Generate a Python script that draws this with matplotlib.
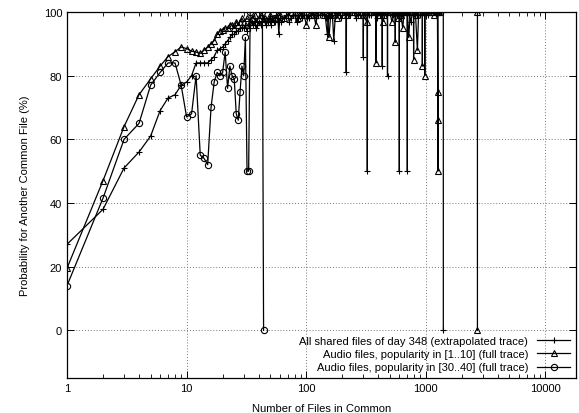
import matplotlib
matplotlib.use("Agg")
import matplotlib.pyplot as plt
from matplotlib.ticker import LogLocator, NullFormatter, FixedLocator

plt.rcParams['font.family'] = ['Liberation Sans', 'DejaVu Sans']

# All shared files of day 348 (extrapolated trace)
all_x = [1, 2, 3, 4, 5, 6, 7, 8, 9, 10, 11, 12, 13, 14, 15, 16, 17, 18, 19, 20,
         21, 22, 23, 24, 25, 26, 27, 28, 29, 30, 31, 32, 33, 34, 35, 36, 37, 38, 39, 40,
         42, 44, 45, 46, 48, 50, 51, 52, 54, 55, 56, 58, 59, 60, 62, 65, 68, 70, 72, 75,
         78, 80, 83, 85, 88, 90, 93, 95, 100, 105, 110, 115, 120, 125, 130, 135, 140, 145, 150, 155,
         160, 165, 170, 175, 180, 185, 190, 195, 200, 205, 210, 215, 216, 217, 222, 230, 240, 250,
         260, 270, 280, 290, 299, 300, 301, 310, 320, 323, 324, 325, 335, 350, 365, 380,
         390, 400, 415, 431, 432, 433, 450, 465, 477, 478, 479, 500, 520, 550, 575, 599,
         600, 601, 625, 650, 675, 699, 700, 701, 725, 750, 775, 800, 850, 900, 950, 1000,
         1050, 1100, 1150, 1200, 1250, 1300, 1350, 1399, 1400]
all_y = [27, 38, 51, 56, 61, 69, 73, 74, 77, 78, 80, 84, 84, 84, 84, 85, 86, 88, 88.5, 89,
         90, 91, 92, 93, 93, 94, 94, 95, 95, 95, 96, 94, 96, 95, 97, 96, 97, 95, 96, 97,
         96, 98, 97, 96, 97, 98, 96, 98, 97, 97, 99, 98, 93, 98, 97, 98, 99, 99, 97, 98,
         99, 99, 97, 98, 100, 99, 98, 99, 99, 98, 99, 100, 98, 99, 99, 100, 99, 98, 93, 100,
         99, 100, 91, 99, 99, 100, 100, 98, 99, 100, 100, 99, 81, 100, 99, 99, 100, 100,
         98, 99, 100, 100, 100, 86, 99, 100, 100, 100, 50, 100, 99, 99, 100, 100,
         98, 100, 99, 100, 83, 100, 99, 100, 100, 80, 100, 100, 99, 99, 100, 100,
         50, 100, 98, 99, 100, 100, 50, 100, 99, 97, 100, 100, 99, 99, 100, 100,
         99, 100, 100, 100, 99, 100, 100, 100, 0]

# Audio files, popularity in [1..10] (full trace)
low_x = [1, 2, 3, 4, 5, 6, 7, 8, 9, 10, 11, 12, 13, 14, 15, 16, 17, 18, 19, 20,
         21, 22, 23, 24, 25, 26, 27, 28, 29, 30, 32, 34, 35, 37, 38, 40, 42, 45, 48, 50,
         53, 55, 58, 60, 65, 70, 75, 80, 85, 90, 95, 100, 105, 110, 115, 120, 125, 130, 140, 150,
         155, 160, 170, 180, 190, 200, 220, 240, 250, 270, 300, 320, 335, 350, 380, 383, 386, 400,
         420, 440, 450, 470, 500, 520, 554, 555, 556, 580, 600, 620, 640, 660, 700, 720, 740, 760,
         789, 790, 791, 820, 850, 870, 900, 934, 935, 936, 979, 980, 981, 1050, 1100, 1180,
         1250, 1259, 1260, 1261, 1262, 1300, 2699, 2700]
low_y = [19.5, 47, 64, 74, 79, 83, 86, 87.5, 89, 88.5, 87.7, 87.4, 87, 88, 89, 90, 91, 93, 94, 94.5,
         95, 95, 96, 96, 95, 97, 96, 97, 98, 97, 98, 97, 98, 99, 97, 98, 99, 98, 97, 99,
         98, 98, 99, 99, 98, 99, 100, 100, 98, 99, 100, 96, 99, 99, 100, 96, 100, 100, 99, 99,
         92, 99, 100, 98, 100, 100, 99, 100, 100, 99, 99, 97, 100, 100, 100, 84, 100, 99,
         100, 97, 99, 100, 100, 97, 100, 90.5, 100, 98, 100, 99, 95, 100, 100, 92, 100, 100,
         100, 85, 100, 99, 88, 100, 100, 100, 83, 100, 100, 80, 100, 100, 100, 99,
         100, 75, 66, 50, 100, 100, 100, 0]

# Audio files, popularity in [30..40] (full trace)
mid_x = [1, 2, 3, 4, 5, 6, 7, 8, 9, 10, 11, 12, 13, 14, 15, 16, 17, 18, 19, 20,
         21, 22, 23, 24, 25, 26, 27, 28, 29, 30, 31, 32, 33, 34, 43, 44]
mid_y = [14, 41.5, 60, 65, 77, 81, 84, 84, 77, 67, 68, 80, 55, 54, 52, 70, 78, 81, 80, 81,
         87.5, 76, 83, 80, 79, 68, 66, 75, 83, 80, 92, 50, 50, 100, 100, 0]

labels = ["All shared files of day 348 (extrapolated trace)",
          "Audio files, popularity in [1..10] (full trace)",
          "Audio files, popularity in [30..40] (full trace)"]

fig = plt.figure(figsize=(5.79, 4.14), dpi=100)
ax = fig.add_axes([67 / 579, 1 - 379 / 414, (576 - 67) / 579, (379 - 13) / 414])

ax.plot(all_x, all_y, color='black', lw=0.9, marker='+', ms=5, mew=0.8, label=labels[0])
ax.plot(low_x, low_y, color='black', lw=0.9, marker='^', ms=4, mew=0.8,
        mfc='none', label=labels[1])
ax.plot(mid_x, mid_y, color='black', lw=0.9, marker='o', ms=4.5, mew=0.8,
        mfc='none', label=labels[2])

ax.set_xscale('log')
ax.set_xlim(1, 18000)
ax.set_ylim(-15, 100)
ax.xaxis.set_major_locator(FixedLocator([1, 10, 100, 1000, 10000]))
ax.set_xticklabels(['1', '10', '100', '1000', '10000'])
ax.xaxis.set_minor_locator(LogLocator(base=10, subs=range(2, 10), numticks=20))
ax.xaxis.set_minor_formatter(NullFormatter())
ax.set_yticks([0, 20, 40, 60, 80, 100])

ax.tick_params(which='both', direction='in', top=True, right=True, labelsize=8)
ax.tick_params(which='major', length=5, width=0.7)
ax.tick_params(which='minor', length=3, width=0.6)
ax.grid(True, which='major', color='#777777', linestyle=(0, (1, 2)), linewidth=0.7)
for s in ax.spines.values():
    s.set_linewidth(0.9)

ax.set_xlabel('Number of Files in Common', fontsize=8, labelpad=7)
ax.set_ylabel('Probability for Another Common File (%)', fontsize=8, labelpad=10)

ax.legend(loc='lower right', frameon=False, markerfirst=False, fontsize=8,
          handlelength=3, numpoints=1, labelspacing=0.3, borderaxespad=0.2,
          handletextpad=0.8, borderpad=0.3)

fig.savefig('out.png', dpi=100)
